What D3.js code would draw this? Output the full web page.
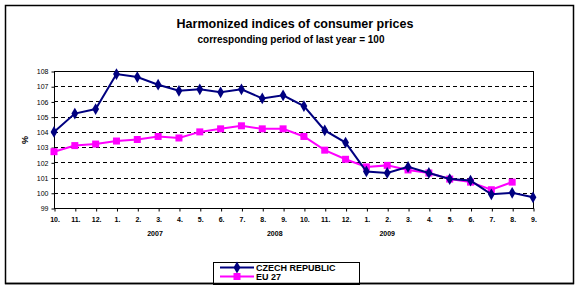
<!DOCTYPE html>
<html>
<head>
<meta charset="utf-8">
<script src="https://cdn.jsdelivr.net/npm/d3@7"></script>
<style>
  body { margin: 0; background: #fff; }
  svg { display: block; font-family: "Liberation Sans", Arial, sans-serif; }
</style>
</head>
<body>
<div id="chart"></div>
<script>
// Monate (Okt 2007 - Sep 2009)
const months = ["10.", "11.", "12.", "1.", "2.", "3.", "4.", "5.", "6.", "7.", "8.", "9.",
                "10.", "11.", "12.", "1.", "2.", "3.", "4.", "5.", "6.", "7.", "8.", "9."];
const czech = [104.0, 105.2, 105.5, 107.8, 107.6, 107.1, 106.7, 106.8, 106.6, 106.8, 106.2, 106.4,
               105.7, 104.1, 103.3, 101.4, 101.3, 101.7, 101.3, 100.9, 100.8, 99.9, 100.0, 99.7];
const eu27 = [102.7, 103.1, 103.2, 103.4, 103.5, 103.7, 103.6, 104.0, 104.2, 104.4, 104.2, 104.2,
              103.7, 102.8, 102.2, 101.7, 101.8, 101.5, 101.3, 100.9, 100.7, 100.2, 100.7];
// Jahreslabels mit Position (Kategorie-Index)
const years = [{ label: "2007", pos: 4.85 }, { label: "2008", pos: 10.6 }, { label: "2009", pos: 16.0 }];
const yTicks = [99, 100, 101, 102, 103, 104, 105, 106, 107, 108];

const W = 580, H = 289;
const svg = d3.select("#chart").append("svg").attr("width", W).attr("height", H);

// Rahmen
svg.append("rect").attr("x", 5.5).attr("y", 5.5).attr("width", 568).attr("height", 278)
    .attr("fill", "none").attr("stroke", "#000").attr("stroke-width", 1.5);

// Titel
svg.append("text").attr("x", 295).attr("y", 28).attr("text-anchor", "middle")
    .attr("font-size", 12.5).attr("font-weight", "bold").text("Harmonized indices of consumer prices");
svg.append("text").attr("x", 291).attr("y", 43).attr("text-anchor", "middle")
    .attr("font-size", 10).attr("font-weight", "bold").text("corresponding period of last year = 100");

// Skalen
const x = d3.scaleLinear().domain([0, months.length - 1]).range([54, 533]);
const y = d3.scaleLinear().domain([99, 108]).range([208, 71]);

// Gitterlinien
svg.append("g").selectAll("line").data(yTicks.filter(d => d > 99 && d < 108)).join("line")
    .attr("x1", x(0)).attr("x2", x(months.length - 1))
    .attr("y1", d => Math.round(y(d)) + 0.5).attr("y2", d => Math.round(y(d)) + 0.5)
    .attr("stroke", "#000").attr("stroke-dasharray", "4,3");

// Plotbereich Rahmen
svg.append("rect").attr("x", x(0) + 0.5).attr("y", y(108) + 0.5)
    .attr("width", x(months.length - 1) - x(0)).attr("height", y(99) - y(108))
    .attr("fill", "none").attr("stroke", "#000");

// Achsen
const yAxis = svg.append("g").attr("transform", `translate(${x(0) + 0.5},0.5)`)
    .call(d3.axisLeft(y).tickValues(yTicks).tickSize(3).tickPadding(3));
yAxis.select(".domain").remove();
yAxis.selectAll("text").attr("font-size", 7).attr("font-family", "Liberation Sans, Arial");

const xAxis = svg.append("g").attr("transform", `translate(0.5,${y(99) + 0.5})`)
    .call(d3.axisBottom(x).tickValues(d3.range(months.length)).tickFormat(i => months[i])
        .tickSize(3).tickPadding(6));
xAxis.select(".domain").remove();
xAxis.selectAll("text").attr("font-size", 7).attr("font-weight", "bold");

svg.append("g").selectAll("text").data(years).join("text")
    .attr("x", d => x(d.pos)).attr("y", 236).attr("text-anchor", "middle")
    .attr("font-size", 7).attr("font-weight", "bold").text(d => d.label);

svg.append("text").attr("transform", "translate(28,140) rotate(-90)")
    .attr("text-anchor", "middle").attr("font-size", 9).attr("font-weight", "bold").text("%");

// Linien
const line = d3.line().x((d, i) => x(i)).y(d => y(d));
svg.append("path").datum(eu27).attr("d", line).attr("fill", "none")
    .attr("stroke", "#ff00ff").attr("stroke-width", 2);
svg.append("g").selectAll("rect").data(eu27).join("rect")
    .attr("x", (d, i) => x(i) - 3.5).attr("y", d => y(d) - 3.5)
    .attr("width", 7).attr("height", 7).attr("fill", "#ff00ff");

svg.append("path").datum(czech).attr("d", line).attr("fill", "none")
    .attr("stroke", "#000080").attr("stroke-width", 2);
const diamond = d3.symbol().type(d3.symbolDiamond).size(40);
svg.append("g").selectAll("path").data(czech).join("path")
    .attr("transform", (d, i) => `translate(${x(i)},${y(d)})`)
    .attr("d", diamond).attr("fill", "#000080");

// Legende
const lg = svg.append("g");
lg.append("rect").attr("x", 213.5).attr("y", 262.5).attr("width", 146).attr("height", 22)
    .attr("fill", "#fff").attr("stroke", "#000");
const legendItems = [
    { name: "CZECH REPUBLIC", color: "#000080", shape: "diamond", y: 267.5 },
    { name: "EU 27", color: "#ff00ff", shape: "square", y: 276.5 }
];
legendItems.forEach(it => {
    lg.append("line").attr("x1", 220).attr("x2", 254).attr("y1", it.y).attr("y2", it.y)
        .attr("stroke", it.color).attr("stroke-width", 2);
    if (it.shape === "diamond") {
        lg.append("path").attr("transform", `translate(237,${it.y})`).attr("d", diamond).attr("fill", it.color);
    } else {
        lg.append("rect").attr("x", 233.5).attr("y", it.y - 3.5).attr("width", 7).attr("height", 7).attr("fill", it.color);
    }
    lg.append("text").attr("x", 256).attr("y", it.y + 3.3).attr("font-size", 9)
        .attr("font-weight", "bold").text(it.name);
});
// Rahmen unten nochmal über Legende
svg.append("line").attr("x1", 5).attr("x2", 574).attr("y1", 283.5).attr("y2", 283.5)
    .attr("stroke", "#000").attr("stroke-width", 1.5);
</script>
</body>
</html>
